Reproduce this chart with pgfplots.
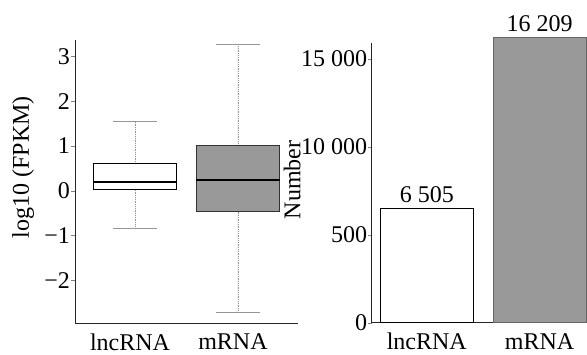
\documentclass[border=0pt]{standalone}
\usepackage{fontspec}
\setmainfont{Liberation Serif}
\usepackage{pgfplots}
\pgfplotsset{compat=1.18}
\usepgfplotslibrary{statistics}
\definecolor{boxgray}{RGB}{153,153,153}
\definecolor{capgray}{RGB}{150,150,150}
\begin{document}
\begin{tikzpicture}
\path[use as bounding box] (0,0) rectangle (587bp,355bp);
\pgfplotsset{every axis/.append style={font=\fontsize{24bp}{28bp}\selectfont}}
% Left: boxplot
\begin{axis}[
  at={(75bp,32bp)}, anchor=south west,
  scale only axis, width=223bp, height=283bp,
  xmin=0.417, xmax=2.583, ymin=-2.953, ymax=3.364,
  axis x line*=bottom, axis y line*=left,
  axis line style={-, line width=1pt, black!85},
  xtick={1,2}, xticklabels={lncRNA,mRNA},
  xtick style={draw=none},
  xticklabel style={yshift=-3bp, xshift=-5bp},
  ytick={-2,-1,0,1,2,3},
  yticklabels={−2,−1,0,1,2,3},
  tick align=outside, major tick length=4bp,
  yticklabel style={inner sep=1bp},
  ylabel={log10 (FPKM)},
  ylabel style={at={(axis description cs:-0.233,0.551)}, anchor=center},
  clip=false,
  boxplot/draw direction=y,
  boxplot/draw/lower whisker/.code={
    \draw[capgray, densely dotted, line width=0.8pt] (boxplot cs:\pgfplotsboxplotvalue{lower whisker}) -- (boxplot cs:\pgfplotsboxplotvalue{lower quartile});
    \draw[capgray, line width=1pt] (boxplot whisker cs:\pgfplotsboxplotvalue{lower whisker},0) -- (boxplot whisker cs:\pgfplotsboxplotvalue{lower whisker},1);
  },
  boxplot/draw/upper whisker/.code={
    \draw[capgray, densely dotted, line width=0.8pt] (boxplot cs:\pgfplotsboxplotvalue{upper whisker}) -- (boxplot cs:\pgfplotsboxplotvalue{upper quartile});
    \draw[capgray, line width=1pt] (boxplot whisker cs:\pgfplotsboxplotvalue{upper whisker},0) -- (boxplot whisker cs:\pgfplotsboxplotvalue{upper whisker},1);
  },
]
\addplot[boxplot prepared={lower whisker=-0.84, lower quartile=0.03, median=0.19,
  upper quartile=0.61, upper whisker=1.54, draw position=1,
  box extend=0.81, whisker extend=0.42, every median/.style={line width=2pt, black}},
  draw=black, line width=1.1pt, fill=white, mark=none] coordinates {};
\addplot[boxplot prepared={lower whisker=-2.72, lower quartile=-0.47, median=0.23,
  upper quartile=1.0, upper whisker=3.27, draw position=2,
  box extend=0.81, whisker extend=0.42, every median/.style={line width=2pt, black}},
  draw=black!80, line width=1.1pt, fill=boxgray, mark=none] coordinates {};
\end{axis}
% Right: bar chart
\begin{axis}[
  at={(371.7bp,32.3bp)}, anchor=south west,
  scale only axis, width=215.3bp, height=279.4bp,
  xmin=0.512, xmax=2.42, ymin=0, ymax=15875,
  axis x line*=bottom, axis y line*=left,
  axis line style={-, line width=1pt, black!85},
  xtick={1,2}, xticklabels={lncRNA,mRNA},
  xtick style={draw=none},
  xticklabel style={yshift=-3bp},
  ytick={0,5000,10000,15000},
  yticklabels={0,500,10~000,15~000},
  scaled y ticks=false,
  tick align=outside, major tick length=4bp,
  yticklabel style={inner sep=0.5bp},
  ylabel={Number},
  ylabel style={at={(axis description cs:-0.370,0.511)}, anchor=center},
  clip=false,
  ybar, bar width=93bp, bar shift=0pt,
  point meta=explicit symbolic,
  nodes near coords, nodes near coords style={anchor=south, inner sep=1bp, yshift=4bp},
]
\addplot[draw=black, line width=1.1pt, fill=white] coordinates {(1,6505) [6~505]};
\addplot[draw=black!60, line width=1pt, fill=boxgray] coordinates {(2,16209) [16~209]};
\end{axis}
\end{tikzpicture}
\end{document}
